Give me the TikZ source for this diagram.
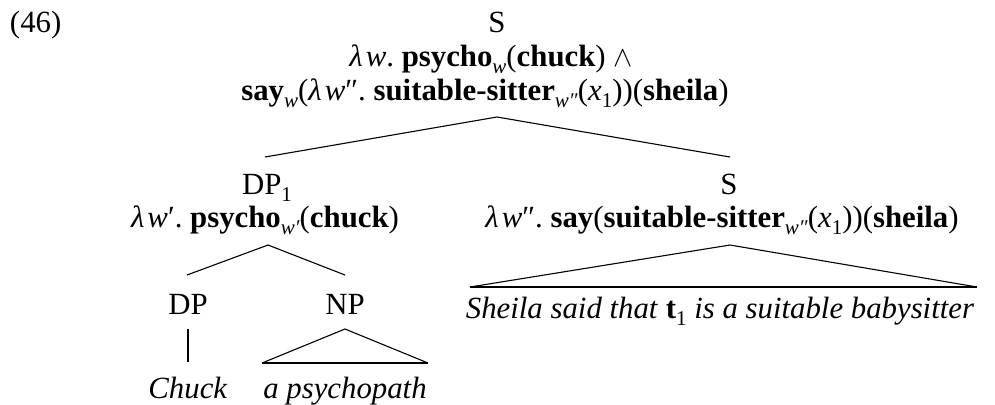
\documentclass[tikz,border=0pt]{standalone}
\usepackage{fontspec}
\setmainfont{Liberation Serif}
\newcommand\sbs[1]{\raisebox{-0.24em}{\fontsize{10.5}{10.5}\selectfont #1}}
\newcommand\lw{\textit{λ\kern0.1em w}}
\begin{document}
\begin{tikzpicture}[x=0.5pt,y=-0.5pt,
  every node/.style={inner sep=0pt,outer sep=0pt,font=\fontsize{15.4}{18}\selectfont},
  lbl/.style={anchor=base},
  branch/.style={line width=0.55pt},
  flat/.style={line width=0.8pt}]
\useasboundingbox (0,0) rectangle (995,404);

% example number
\node[anchor=base west] (num) at (10,32) {(46)};

% root
\node[lbl] (rootcat) at (497,32) {S};
\node[lbl] (rootsemA) at (491,66) {\lw.\ \textbf{psycho}\sbs{\textit{w}}(\textbf{chuck}) $\wedge$};
\node[lbl] (rootsemB) at (485,100) {\textbf{say}\sbs{\textit{w}}(\lw″.\ \textbf{suitable-sitter}\sbs{\textit{w″}}(\textit{x}\sbs{1}))(\textbf{sheila})};
\coordinate (rootapex) at (497,117);

% DP_1
\node[lbl] (dpcat) at (267,194) {DP\sbs{1}};
\node[lbl] (dpsem) at (265,227) {\lw′.\ \textbf{psycho}\sbs{\textit{w′}}(\textbf{chuck})};
\coordinate (dptop) at (265,157);
\coordinate (dpapex) at (268,245);

% embedded S
\node[lbl] (scat) at (729,194) {S};
\node[lbl] (ssem) at (722,227) {\lw″.\ \textbf{say}(\textbf{suitable-sitter}\sbs{\textit{w″}}(\textit{x}\sbs{1}))(\textbf{sheila})};
\coordinate (stop) at (730,157);
\coordinate (sapex) at (730,245);
\coordinate (sbl) at (470,287);
\coordinate (sbr) at (977,287);
\node[lbl] (sleaf) at (720,318) {\textit{Sheila said that} \textbf{t}\sbs{1}\ \textit{is a suitable babysitter}};

% DP and NP
\node[lbl] (dcat) at (188,314) {DP};
\node[lbl] (ncat) at (345,314) {NP};
\coordinate (dtop) at (187,275);
\coordinate (ntop) at (345,275);
\coordinate (dline) at (188,329);
\coordinate (dlineb) at (188,362);
\coordinate (napex) at (345,329);
\coordinate (nbl) at (262,363);
\coordinate (nbr) at (428,363);
\node[lbl] (chuck) at (188,398) {\textit{Chuck}};
\node[lbl] (psy) at (345,398) {\textit{a psychopath}};

% branches
\draw[branch] (dptop) -- (rootapex) -- (stop);
\draw[branch] (dtop) -- (dpapex) -- (ntop);
\draw[branch] (sbl) -- (sapex) -- (sbr);
\draw[flat] (sbl) -- (sbr);
\draw[flat] (dline) -- (dlineb);
\draw[branch] (nbl) -- (napex) -- (nbr);
\draw[flat] (nbl) -- (nbr);
\end{tikzpicture}
\end{document}
